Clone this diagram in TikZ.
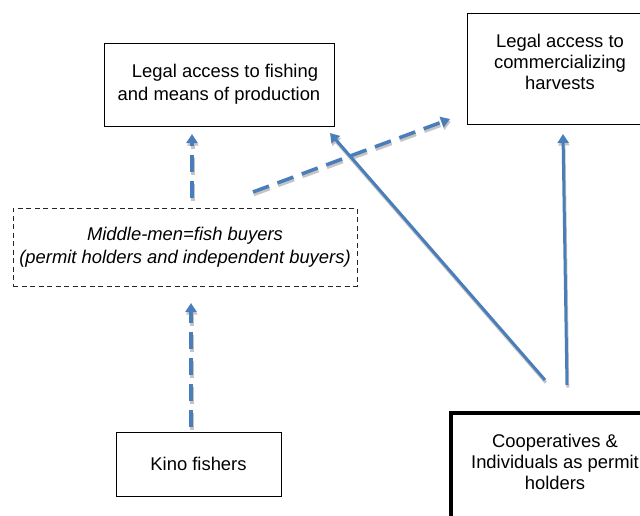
\documentclass[tikz,border=0pt]{standalone}
\usepackage{fontspec}
\setmainfont{Liberation Sans}
\usetikzlibrary{arrows.meta}
\definecolor{arrowblue}{HTML}{4A7EBB}
\definecolor{shadowgray}{HTML}{C4C4C4}
\newcommand{\boxfont}{\fontsize{18.4}{23}\selectfont}
\newcommand{\tightfont}{\fontsize{18.4}{21}\selectfont}
\begin{document}
\begin{tikzpicture}[x=1pt,y=-1pt,
  every node/.style={font=\boxfont, align=center, inner sep=0pt},
  box/.style={draw=black, line width=1pt},
  dbox/.style={draw=black!85, line width=1pt, dash pattern=on 5pt off 3.5pt, font=\boxfont\itshape},
  thickbox/.style={draw=black, line width=4pt},
  arr/.style={draw=arrowblue, line width=3pt, -{Triangle[width=11pt,length=9pt]},
    preaction={draw=shadowgray, line width=3pt, transform canvas={shift={(0.8pt,-2.5pt)}}}},
  darr/.style={draw=arrowblue, line width=3.5pt, dash pattern=on 17pt off 9pt,
    -{Triangle[width=11pt,length=9pt]},
    preaction={draw=shadowgray, line width=3.5pt, dash pattern=on 17pt off 9pt,
      transform canvas={shift={(0.8pt,-2.5pt)}}}},
]
\useasboundingbox (0,0) rectangle (640,515);
\fill[white] (0,0) rectangle (640,515);

\node[box, minimum width=230pt, minimum height=83pt] (fish) at (219,84.5)
  {\hspace*{12pt}Legal access to fishing\\and means of production};
\node[box, minimum width=186pt, minimum height=111pt] (comm) at (560,68.5) {};
\node[font=\tightfont] (commtext) at (560,62)
  {Legal access to\\commercializing\\harvests};
\node[dbox, minimum width=344pt, minimum height=78pt] (mid) at (185,247)
  {Middle-men=fish buyers\\(permit holders and independent buyers)};
\node[box, minimum width=165pt, minimum height=64pt] (kino) at (198.5,464)
  {Kino fishers};
\node[thickbox, minimum width=208pt, minimum height=120pt] (coop) at (555,473) {};
\node[font=\tightfont] (cooptext) at (555,462)
  {Cooperatives \&\\Individuals as permit\\holders};

\coordinate (d1s) at (192,198);
\coordinate (d1e) at (192,134);
\coordinate (d2s) at (191,427);
\coordinate (d2e) at (191,303);
\coordinate (d3s) at (253,192);
\coordinate (d3e) at (450,119);
\coordinate (s1s) at (545,380);
\coordinate (s1e) at (330,133);
\coordinate (s2s) at (567,385);
\coordinate (s2e) at (563,134);

\draw[darr] (d1s) -- (d1e);
\draw[darr] (d2s) -- (d2e);
\draw[darr] (d3s) -- (d3e);
\draw[arr] (s1s) -- (s1e);
\draw[arr] (s2s) -- (s2e);
\end{tikzpicture}
\end{document}
